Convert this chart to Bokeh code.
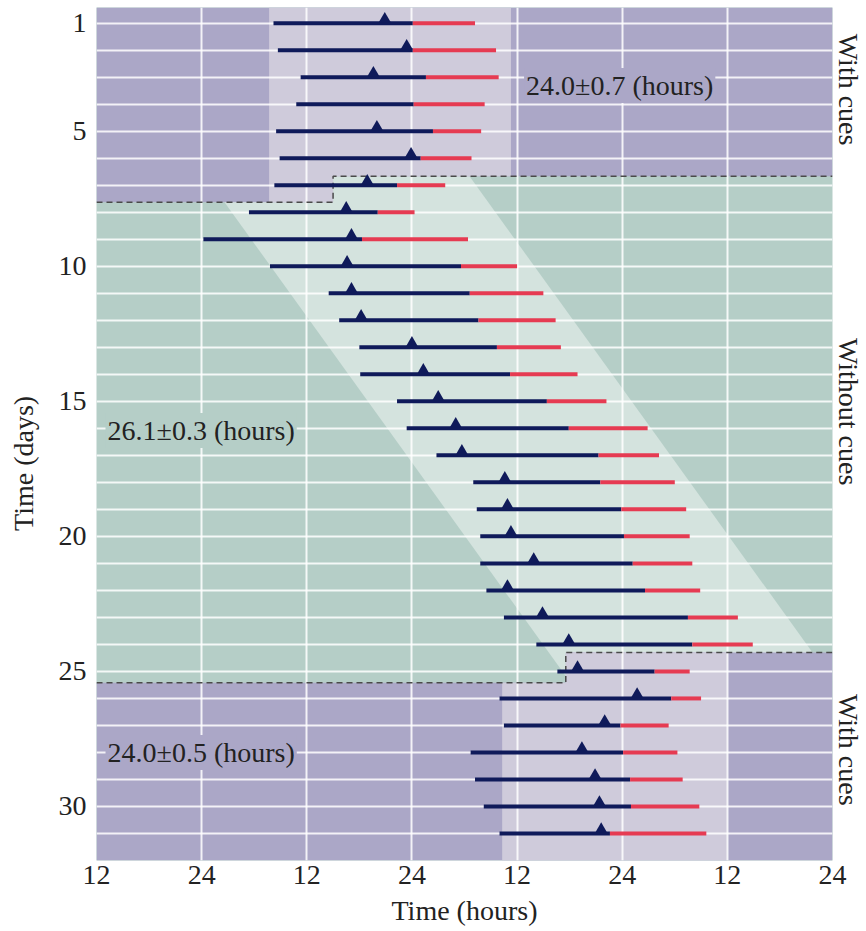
import math
from bokeh.plotting import figure
from bokeh.models import ColumnDataSource, FixedTicker, Label, LinearAxis
from bokeh.embed import file_html
from bokeh.resources import INLINE

# ---------------- data (hours counted from midnight of day 0) ----------------
days = list(range(1, 32))
onset = [32.2, 32.7, 35.3, 34.8, 32.5, 32.9, 32.3, 29.4, 24.2, 31.8, 38.5, 39.7, 42.0, 42.1,
         46.3, 47.4, 50.8, 55.0, 55.4, 55.8, 55.8, 56.5, 58.5, 62.2, 64.6, 58.0, 58.5, 54.7,
         55.2, 56.2, 58.0]
peak = [44.9, 47.4, 43.6, float("nan"), 44.0, 47.9, 42.9, 40.5, 41.1, 40.6, 41.1, 42.2, 48.0,
        49.3, 51.0, 53.0, 53.7, 58.6, 58.9, 59.3, 61.9, 58.9, 62.9, 65.9, 66.9, 73.7, 70.0,
        67.4, 68.9, 69.4, 69.6]
switch = [48.1, 48.1, 49.6, 48.2, 50.4, 49.0, 46.3, 44.1, 42.3, 53.6, 54.6, 55.6, 57.7, 59.2,
          63.4, 65.9, 69.3, 69.5, 71.9, 72.2, 73.2, 74.6, 79.5, 80.0, 75.7, 77.6, 71.8, 72.1,
          72.9, 73.0, 70.6]
offset = [55.2, 57.6, 57.9, 56.3, 55.9, 54.8, 51.8, 48.3, 54.4, 60.0, 63.0, 64.4, 65.0, 66.9,
          70.2, 74.9, 76.2, 78.0, 79.3, 79.7, 80.0, 80.9, 85.2, 86.9, 79.7, 81.0, 77.3, 78.3,
          78.9, 80.8, 81.6]

x_ticks = [12, 24, 36, 48, 60, 72, 84, 96]
x_tick_labels = ["12", "24", "12", "24", "12", "24", "12", "24"]
y_ticks = [1, 5, 10, 15, 20, 25, 30]

# phases (regions)
X0, X1 = 12, 96
Y_TOP, Y_BOT = 0.42, 32.0
top_cut_right, top_cut_left, top_step = 6.67, 7.63, 39.0
top_light = (31.7, 59.3)
bot_cut_right, bot_cut_left, bot_step = 24.3, 25.42, 65.56
bot_light = (58.3, 84.0)
free_ref_day, free_left, free_width, free_slope = 7.57, 26.48, 30.1, 2.22

period_labels = ["24.0\u00b10.7 (hours)", "26.1\u00b10.3 (hours)", "24.0\u00b10.5 (hours)"]
phase_labels = ["With cues", "Without cues", "With cues"]
phase_label_days = [3.46, 15.38, 27.9]
ytitle_day = 17.3

# ---------------- colours ----------------
PURPLE = "#aba7c7"
LAVENDER = "#cfcbdb"
GREEN = "#b5cec7"
LIGHTGREEN = "#d4e3de"
NAVY = "#0f1a5a"
RED = "#e63b52"
FONT = "Liberation Serif"
FS = "28px"
TXT = "#222222"

p = figure(width=866, height=931, x_range=(X0, X1), y_range=(Y_BOT, Y_TOP),
           output_backend="svg", toolbar_location=None,
           min_border_left=96, min_border_right=33, min_border_top=7, min_border_bottom=71)
p.outline_line_color = None
p.background_fill_color = GREEN
p.border_fill_color = "white"

# ---- backgrounds ----
d_a, d_b = 4.0, 28.0
la = free_left + (d_a - free_ref_day) * free_slope
lb = free_left + (d_b - free_ref_day) * free_slope
p.patch([la, la + free_width, lb + free_width, lb], [d_a, d_a, d_b, d_b],
        fill_color=LIGHTGREEN, line_color=None, level="image")

p.patch([X0, X1, X1, top_step, top_step, X0],
        [Y_TOP, Y_TOP, top_cut_right, top_cut_right, top_cut_left, top_cut_left],
        fill_color=PURPLE, line_color=None, level="image")
p.patch([top_light[0], top_light[1], top_light[1], top_step, top_step, top_light[0]],
        [Y_TOP, Y_TOP, top_cut_right, top_cut_right, top_cut_left, top_cut_left],
        fill_color=LAVENDER, line_color=None, level="image")
p.patch([X0, X1, X1, bot_step, bot_step, X0],
        [Y_BOT, Y_BOT, bot_cut_right, bot_cut_right, bot_cut_left, bot_cut_left],
        fill_color=PURPLE, line_color=None, level="image")
p.patch([bot_light[0], bot_light[1], bot_light[1], bot_step, bot_step, bot_light[0]],
        [Y_BOT, Y_BOT, bot_cut_right, bot_cut_right, bot_cut_left, bot_cut_left],
        fill_color=LAVENDER, line_color=None, level="image")

p.line([X0, top_step, top_step, X1], [top_cut_left, top_cut_left, top_cut_right, top_cut_right],
       line_color="#4a4a4a", line_width=1.5, line_dash="6 4")
p.line([X0, bot_step, bot_step, X1], [bot_cut_left, bot_cut_left, bot_cut_right, bot_cut_right],
       line_color="#4a4a4a", line_width=1.5, line_dash="6 4")

# ---- grid ----
p.xgrid.ticker = FixedTicker(ticks=x_ticks[1:-1])
p.ygrid.ticker = FixedTicker(ticks=days)
p.xgrid.grid_line_color = "white"
p.ygrid.grid_line_color = "white"
p.xgrid.grid_line_width = 2
p.ygrid.grid_line_width = 2
p.xgrid.grid_line_alpha = 0.85
p.ygrid.grid_line_alpha = 0.85

# ---- activity bars ----
src = ColumnDataSource(dict(day=days, onset=onset, switch=switch, offset=offset,
                            peak=peak, peak_y=[d - 0.16 for d in days]))
p.segment(x0="onset", y0="day", x1="switch", y1="day", source=src,
          line_color=NAVY, line_width=4, line_cap="butt")
p.segment(x0="switch", y0="day", x1="offset", y1="day", source=src,
          line_color=RED, line_width=4, line_cap="butt")
p.scatter(x="peak", y="peak_y", source=src, marker="triangle", size=12,
          fill_color=NAVY, line_color=None)


def style_axis(ax):
    ax.axis_line_color = None
    ax.major_tick_line_color = None
    ax.minor_tick_line_color = None
    ax.major_tick_out = 0
    ax.major_tick_in = 0
    ax.major_label_text_font = FONT
    ax.major_label_text_font_size = FS
    ax.major_label_text_color = TXT
    ax.axis_label_text_font = FONT
    ax.axis_label_text_font_size = FS
    ax.axis_label_text_color = TXT
    ax.axis_label_text_font_style = "normal"


# ---- axes ----
xa = p.xaxis[0]
ya = p.yaxis[0]
style_axis(xa)
style_axis(ya)
xa.ticker = FixedTicker(ticks=x_ticks)
xa.major_label_overrides = {t: s for t, s in zip(x_ticks, x_tick_labels)}
xa.major_label_standoff = 5
xa.axis_label = "Time (hours)"
xa.axis_label_standoff = 8
ya.ticker = FixedTicker(ticks=y_ticks)
ya.major_label_standoff = 10

# y title placed at its own position via an extra left axis
ytitle = LinearAxis(ticker=FixedTicker(ticks=[ytitle_day]),
                    major_label_overrides={ytitle_day: "Time (days)"},
                    major_label_orientation="parallel")
style_axis(ytitle)
ytitle.major_label_standoff = 16
p.add_layout(ytitle, "left")

# phase labels on the right
raxis = LinearAxis(ticker=FixedTicker(ticks=phase_label_days),
                   major_label_overrides={d: s for d, s in zip(phase_label_days, phase_labels)},
                   major_label_orientation="parallel")
style_axis(raxis)
raxis.major_label_standoff = 0
p.add_layout(raxis, "right")

# period annotations
for (x, y, bg), txt in zip([(60.8, 3.31, PURPLE), (13.03, 16.08, GREEN), (13.03, 28.0, PURPLE)],
                           period_labels):
    p.add_layout(Label(x=x, y=y, text=txt, text_font=FONT, text_font_size=FS,
                       text_align="left", text_baseline="middle", text_color=TXT,
                       background_fill_color=bg, padding=2))

open("out.html", "w").write(file_html(p, INLINE))
